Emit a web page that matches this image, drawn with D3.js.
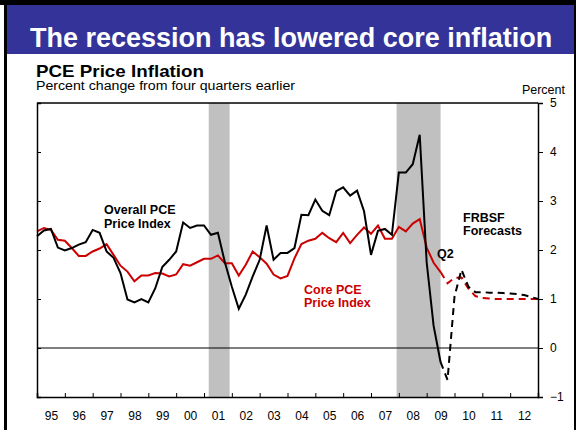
<!DOCTYPE html>
<html><head><meta charset="utf-8">
<script src="https://cdn.jsdelivr.net/npm/d3@7"></script>
<style>
html,body{margin:0;padding:0;background:#fff;}
svg{display:block;font-family:"Liberation Sans",Arial,Helvetica,sans-serif;}
</style></head>
<body><svg id="c" width="576" height="432"></svg>
<script>
// Quarterly data, first point = 1994Q4 (plotted at quarter end), last actual = 2009Q2
const overallActual = [2.28,2.40,2.43,2.05,1.99,2.04,2.11,2.16,2.41,2.35,1.97,1.84,1.53,0.99,0.93,1.00,0.93,1.22,1.65,1.80,
  1.97,2.56,2.45,2.50,2.50,2.31,2.35,1.75,1.25,0.80,1.09,1.46,1.80,2.50,1.80,1.94,1.94,2.04,2.72,2.71,
  3.03,2.80,2.71,3.20,3.28,3.11,3.21,2.79,1.90,2.39,2.43,2.31,3.58,3.58,3.75,4.35,1.75,0.45,-0.29];
const coreActual = [2.38,2.45,2.41,2.21,2.19,2.04,1.88,1.88,1.97,2.03,2.12,1.90,1.68,1.56,1.36,1.48,1.48,1.53,1.52,1.46,
  1.50,1.71,1.68,1.75,1.82,1.82,1.89,1.73,1.73,1.48,1.70,1.97,1.85,1.72,1.50,1.42,1.47,1.83,2.12,2.19,
  2.23,2.35,2.24,2.16,2.35,2.14,2.31,2.46,2.33,2.50,2.23,2.23,2.47,2.38,2.54,2.63,2.05,1.74,1.55];
// FRBSF forecasts, 2009Q2 .. 2012Q4
const overallForecast = [-0.29,-0.65,1.05,1.60,1.25,1.14,1.14,1.13,1.13,1.12,1.11,1.10,1.08,1.04,1.00];
const coreForecast = [1.55,1.32,1.43,1.44,1.21,1.06,1.02,1.01,1.00,1.00,1.00,1.00,1.00,1.00,1.00];
const firstQuarterEnd = 1995.0;   // 1994Q4
const forecastStartIndex = 58;    // 2009Q2
const yearLabels = ["95","96","97","98","99","00","01","02","03","04","05","06","07","08","09","10","11","12"];
const yTicks = [-1,0,1,2,3,4,5];
const recessions = [[2001.17,2001.92],[2007.92,2009.5]];

const svg = d3.select("#c");
const FONT = '"Liberation Sans",Arial,Helvetica,sans-serif';
const RED = "#cc0000";

// frame & banner
svg.append("rect").attr("x",0).attr("y",0).attr("width",576).attr("height",432).attr("fill","#fff");
svg.append("rect").attr("x",0).attr("y",0).attr("width",576).attr("height",5).attr("fill","#000");
svg.append("rect").attr("x",4).attr("y",0).attr("width",3).attr("height",430).attr("fill","#000");
svg.append("rect").attr("x",574).attr("y",0).attr("width",2).attr("height",430).attr("fill","#000");
svg.append("rect").attr("x",7).attr("y",5).attr("width",567).attr("height",49).attr("fill","#333399");
svg.append("text").attr("x",30).attr("y",47).attr("fill","#fff").attr("font-weight","bold").attr("font-size",27)
  .text("The recession has lowered core inflation");
svg.append("text").attr("x",36).attr("y",76.5).attr("font-weight","bold").attr("font-size",16.5)
  .attr("textLength",168).attr("lengthAdjust","spacingAndGlyphs").text("PCE Price Inflation");
svg.append("text").attr("x",36).attr("y",90).attr("font-size",12.5)
  .attr("textLength",259).attr("lengthAdjust","spacingAndGlyphs").text("Percent change from four quarters earlier");
svg.append("text").attr("x",565).attr("y",94).attr("text-anchor","end").attr("font-size",12.5).text("Percent");

const x = d3.scaleLinear().domain([1995,2013]).range([37,538]);
const y = d3.scaleLinear().domain([-1,5]).range([397,103]);

// recession shading
svg.selectAll("rect.rec").data(recessions).enter().append("rect").attr("class","rec")
  .attr("x",d=>x(d[0])).attr("width",d=>x(d[1])-x(d[0]))
  .attr("y",y(5)).attr("height",y(-1)-y(5)).attr("fill","#c0c0c0");

// zero line
svg.append("line").attr("x1",x(1995)).attr("x2",x(2013)).attr("y1",y(0)).attr("y2",y(0)).attr("stroke","#000").attr("stroke-width",1);

const tAct = (d,i)=>x(firstQuarterEnd + i/4);
const tFc = (d,i)=>x(firstQuarterEnd + (forecastStartIndex+i)/4);
const lineAct = d3.line().x(tAct).y(d=>y(d));
const lineFc = d3.line().x(tFc).y(d=>y(d));

svg.append("path").attr("d",lineAct(coreActual)).attr("fill","none").attr("stroke",RED).attr("stroke-width",2);
svg.append("path").attr("d",lineFc(coreForecast)).attr("fill","none").attr("stroke",RED).attr("stroke-width",2).attr("stroke-dasharray","7,5");
svg.append("path").attr("d",lineAct(overallActual)).attr("fill","none").attr("stroke","#000").attr("stroke-width",2);
svg.append("path").attr("d",lineFc(overallForecast)).attr("fill","none").attr("stroke","#000").attr("stroke-width",2).attr("stroke-dasharray","7,5");

// axes
const yearTicks = d3.range(1996,2013);
const gB = svg.append("g").attr("transform",`translate(0,${y(-1)})`)
  .call(d3.axisBottom(x).tickValues(yearTicks).tickSize(-4).tickFormat(""));
const gBL = svg.append("g").attr("transform",`translate(0,${y(-1)})`)
  .call(d3.axisBottom(x).tickValues(yearLabels.map((d,i)=>1995.5+i)).tickSize(0).tickPadding(14)
    .tickFormat((d,i)=>yearLabels[i]));
gBL.select(".domain").remove();
const gL = svg.append("g").attr("transform",`translate(${x(1995)},0)`)
  .call(d3.axisLeft(y).tickValues(yTicks).tickSize(-4).tickFormat(""));
const gR = svg.append("g").attr("transform",`translate(${x(2013)},0)`)
  .call(d3.axisRight(y).tickValues(yTicks).tickSize(5).tickPadding(7).tickFormat(d3.format("d")));
[gB,gL,gR].forEach(g=>{g.select(".domain").attr("stroke","#000").attr("stroke-width",1.5);g.selectAll(".tick line").attr("stroke","#000").attr("stroke-width",1);});
svg.selectAll(".tick text").attr("font-family",FONT).attr("font-size",12).attr("fill","#000");
svg.append("line").attr("x1",x(1995)).attr("x2",x(2013)).attr("y1",y(5)).attr("y2",y(5)).attr("stroke","#000").attr("stroke-width",1.5);

// annotations
function label(lines,x0,y0,color){
  const t = svg.append("text").attr("font-weight","bold").attr("font-size",12.5).attr("fill",color);
  lines.forEach((s,i)=>t.append("tspan").attr("x",x0).attr("y",y0+i*13.5).text(s));
}
label(["Overall PCE","Price Index"],104,214,"#000");
label(["Core PCE","Price Index"],304,293.5,RED);
label(["FRBSF","Forecasts"],463,221.5,"#000");
label(["Q2"],437,257.5,"#000");
</script></body></html>
